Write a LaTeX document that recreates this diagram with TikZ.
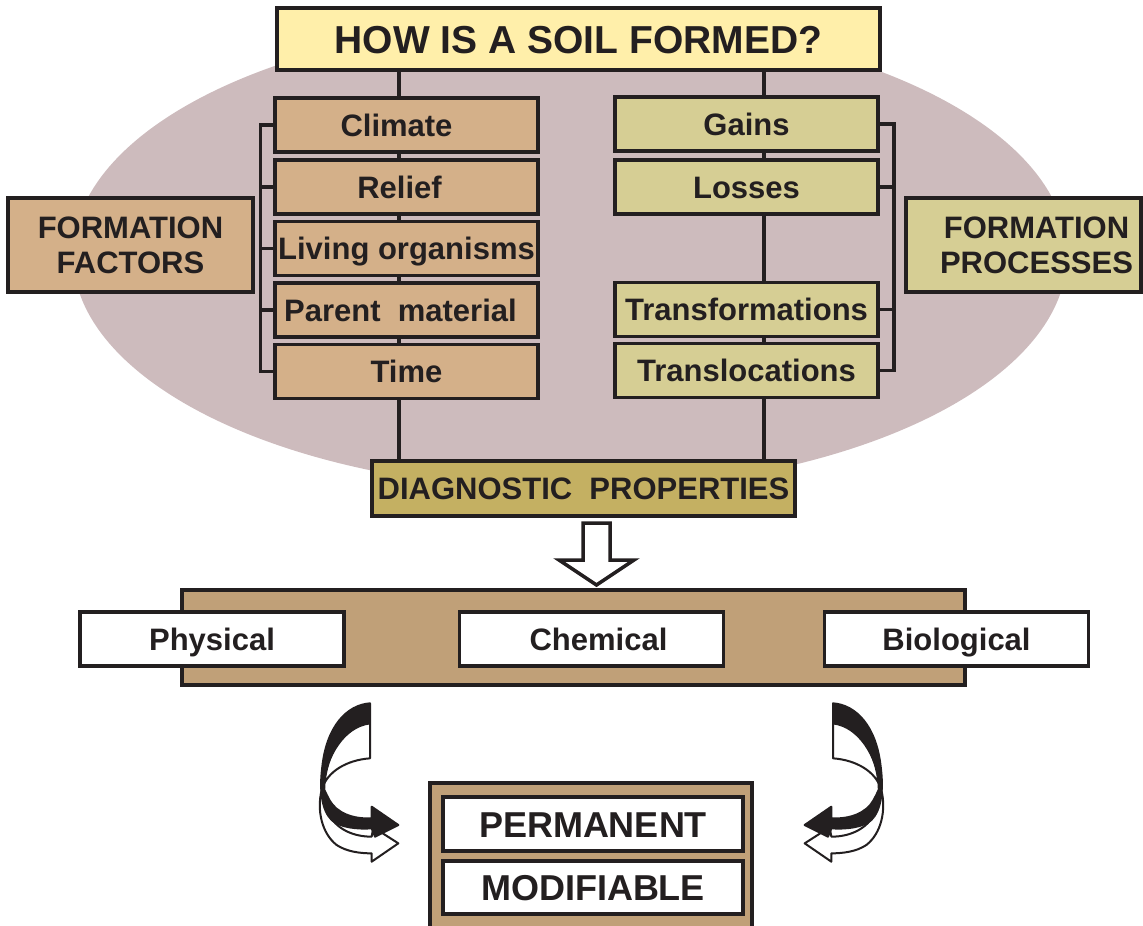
\documentclass[tikz,border=0pt]{standalone}
\usepackage{fontspec}
\setmainfont{Liberation Sans}
\usepackage{tikz}
\usetikzlibrary{calc}
\definecolor{ink}{HTML}{231F20}
\definecolor{titlefill}{HTML}{FFEFAA}
\definecolor{soilbg}{HTML}{CDBBBD}
\definecolor{factorfill}{HTML}{D4B089}
\definecolor{processfill}{HTML}{D6CE94}
\definecolor{diagfill}{HTML}{C4B062}
\definecolor{bandfill}{HTML}{C0A078}
\tikzset{
  box/.style={draw=ink, line width=3.5pt, inner sep=0pt, text=ink,
    font=\bfseries\fontsize{31}{35}\selectfont, minimum height=54pt},
  oneline/.style={box, text height=22pt, text depth=0pt},
  factor/.style={oneline, fill=factorfill, minimum width=263pt},
  process/.style={oneline, fill=processfill, minimum width=263pt},
  kind/.style={oneline, fill=white, minimum width=264pt},
  link/.style={draw=ink, line width=3.5pt}
}
\newcommand\curlarrow{%
  \filldraw[fill=white, draw=ink, line width=2pt, line join=round]
    (240,100) -- (240,205) .. controls (170,210) and (110,245) .. (95,300)
    .. controls (80,360) and (95,430) .. (140,465)
    .. controls (170,485) and (210,490) .. (245,490) -- (245,515) -- (325,460)
    -- (250,412) -- (245,440) .. controls (180,440) and (130,410) .. (110,360)
    .. controls (95,310) and (100,220) .. (150,150)
    .. controls (180,110) and (220,100) .. (240,100) -- cycle;
  \filldraw[fill=ink, draw=ink, line width=2pt, line join=round]
    (240,40) .. controls (170,45) and (110,110) .. (97,230)
    .. controls (88,300) and (95,360) .. (125,390)
    .. controls (150,412) and (200,418) .. (245,415) -- (255,440) -- (325,405)
    -- (245,350) -- (245,385) .. controls (190,388) and (140,370) .. (118,330)
    .. controls (105,305) and (100,295) .. (98,285)
    .. controls (110,200) and (160,110) .. (240,100) -- cycle;
}

\begin{document}
\begin{tikzpicture}[x=1pt, y=-1pt]
  \useasboundingbox (0,0) rectangle (1143,926);
  \fill[soilbg] (570,255) ellipse [x radius=497, y radius=235];

  \node[box, fill=titlefill, minimum width=603pt, minimum height=62pt,
    text height=28pt, text depth=0pt, font=\bfseries\fontsize{39}{44}\selectfont]
    (title) at (578.5,39) {HOW IS A SOIL FORMED?};

  \node[factor] (climate) at (406.5,125) {Climate\hspace*{20pt}};
  \node[factor] (relief) at (406.5,187) {Relief\hspace*{14pt}};
  \node[factor] (living) at (406.5,248.5) {Living organisms};
  \node[factor] (parent) at (406.5,310) {Parent\ \ material\hspace*{12pt}};
  \node[factor] (time) at (406.5,371.5) {Time};

  \node[process] (gains) at (746.5,124) {Gains};
  \node[process] (losses) at (746.5,187) {Losses};
  \node[process] (transf) at (746.5,309.5) {Transformations};
  \node[process] (transl) at (746.5,370.5) {Translocations};

  \node[box, fill=factorfill, minimum width=245pt, minimum height=94pt, align=center]
    (factors) at (130.5,245) {FORMATION\\FACTORS};
  \node[box, fill=processfill, minimum width=235pt, minimum height=94pt, align=center]
    (processes) at (1023.5,245) {\hspace*{26pt}FORMATION\\\hspace*{26pt}PROCESSES};

  \node[oneline, fill=diagfill, minimum width=423pt, minimum height=55pt] (diag) at (583.5,488.5)
    {DIAGNOSTIC\ \ PROPERTIES};

  \coordinate (lx) at (399,0);
  \coordinate (rx) at (764,0);
  \foreach \a/\b in {title/climate,climate/relief,relief/living,living/parent,parent/time,time/diag}
    \draw[link] (\a.south -| lx) -- (\b.north -| lx);
  \foreach \a/\b in {title/gains,gains/losses,losses/transf,transf/transl,transl/diag}
    \draw[link] (\a.south -| rx) -- (\b.north -| rx);

  \draw[link] (climate.west) -- ++(-13,0) |- (time.west);
  \foreach \n in {relief,living,parent}
    \draw[link] (\n.west) -- ++(-13,0);
  \draw[link] (gains.east) -- ++(14,0) |- (transl.east);
  \foreach \n in {losses,transf}
    \draw[link] (\n.east) -- ++(14,0);

  \draw[fill=white, draw=ink, line width=3.5pt, line join=miter]
    (583,523) -- (610,523) -- (610,560) -- (634,560) -- (596.5,585) -- (559,560)
    -- (583,560) -- cycle;

  \node[box, fill=bandfill, minimum width=783pt, minimum height=95pt] (band) at (573.5,637.5) {};
  \node[kind] (physical) at (212,639) {Physical};
  \node[kind] (chemical) at (591.5,639) {\hspace*{14pt}Chemical};
  \node[kind] (biological) at (956.5,639) {Biological};

  \filldraw[fill=bandfill, draw=ink, line width=3.5pt] (430,930) |- (752,783) -- (752,930);
  \node[oneline, fill=white, minimum width=300pt, text height=26pt,
    font=\bfseries\fontsize{36}{40}\selectfont] (permanent) at (593,824) {PERMANENT};
  \node[oneline, fill=white, minimum width=300pt, minimum height=53pt, text height=26pt,
    font=\bfseries\fontsize{36}{40}\selectfont] (modifiable) at (593,887.5) {MODIFIABLE};

  \begin{scope}[shift={(290,690)}, scale=1/3]
    \curlarrow
  \end{scope}
  \begin{scope}[shift={(913,690)}, xscale=-1/3, yscale=1/3]
    \curlarrow
  \end{scope}
\end{tikzpicture}
\end{document}
